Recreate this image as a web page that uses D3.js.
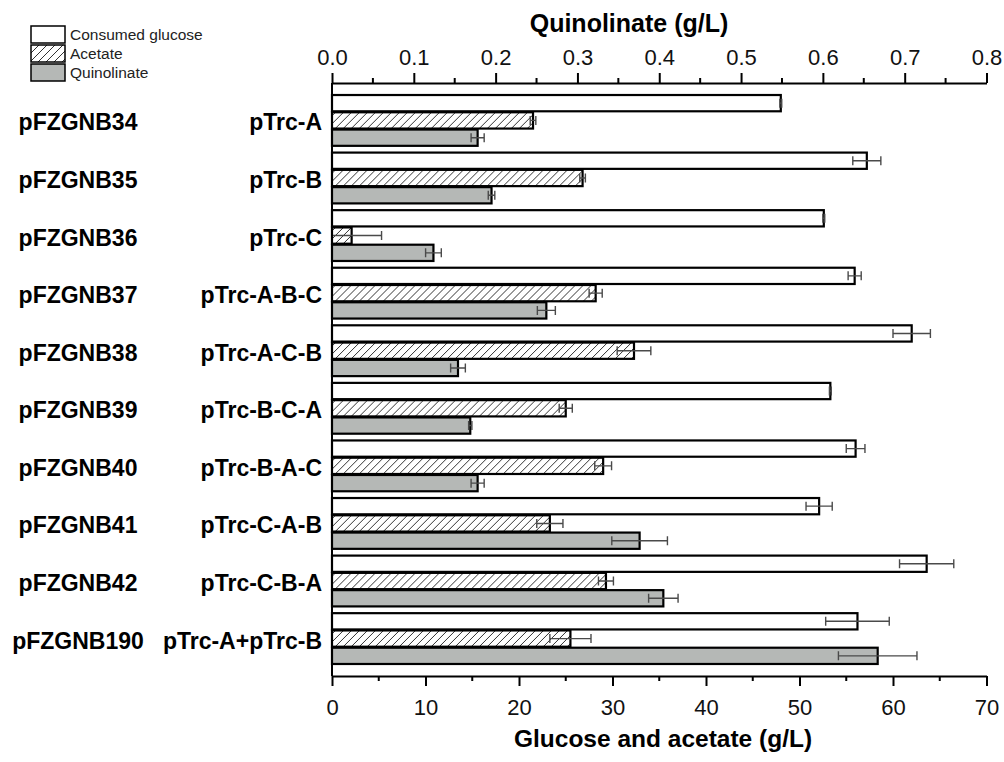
<!DOCTYPE html>
<html>
<head>
<meta charset="utf-8">
<script src="https://cdn.jsdelivr.net/npm/d3@7"></script>
<style>
  html, body { margin: 0; padding: 0; background: #fff; }
  svg { display: block; font-family: "Liberation Sans", Arial, sans-serif; }
</style>
</head>
<body>
<svg id="chart" width="1004" height="762"></svg>
<script>
const plasmids = ["pFZGNB34", "pFZGNB35", "pFZGNB36", "pFZGNB37", "pFZGNB38",
  "pFZGNB39", "pFZGNB40", "pFZGNB41", "pFZGNB42", "pFZGNB190"];
const constructs = ["pTrc-A", "pTrc-B", "pTrc-C", "pTrc-A-B-C", "pTrc-A-C-B",
  "pTrc-B-C-A", "pTrc-B-A-C", "pTrc-C-A-B", "pTrc-C-B-A", "pTrc-A+pTrc-B"];

// g/L, bottom axis
const glucose = [48.0, 57.2, 52.6, 55.9, 62.0, 53.3, 56.0, 52.1, 63.6, 56.2];
const glucoseErr = [0.1, 1.5, 0.1, 0.7, 2.0, 0.1, 1.0, 1.4, 2.9, 3.4];
const acetate = [21.5, 26.8, 2.1, 28.2, 32.3, 25.0, 29.0, 23.3, 29.3, 25.5];
const acetateErr = [0.3, 0.3, 3.2, 0.7, 1.8, 0.7, 0.9, 1.4, 0.8, 2.2];
// g/L, top axis
const quinolinate = [0.178, 0.195, 0.124, 0.262, 0.154, 0.169, 0.178, 0.376, 0.405, 0.667];
const quinolinateErr = [0.008, 0.004, 0.0096, 0.011, 0.009, 0.002, 0.008, 0.034, 0.018, 0.048];

const bottomTicks = [0, 10, 20, 30, 40, 50, 60, 70];
const topTicks = [0, 0.1, 0.2, 0.3, 0.4, 0.5, 0.6, 0.7, 0.8];
const seriesNames = ["Consumed glucose", "Acetate", "Quinolinate"];

const plotLeft = 332, plotRight = 986.5, plotTop = 83, plotBottom = 676;
const gray = "#b5b8b6";

const svg = d3.select("#chart");

const defs = svg.append("defs");
const hatch = defs.append("pattern")
  .attr("id", "hatch")
  .attr("patternUnits", "userSpaceOnUse")
  .attr("width", 8).attr("height", 8);
hatch.append("rect").attr("width", 8).attr("height", 8).attr("fill", "#fff");
hatch.append("path")
  .attr("d", "M-2,2 l4,-4 M0,8 l8,-8 M6,10 l4,-4")
  .attr("stroke", "#333").attr("stroke-width", 1);

const x = d3.scaleLinear().domain([0, 70]).range([plotLeft, plotRight]);
const xq = d3.scaleLinear().domain([0, 0.8]).range([plotLeft, plotRight]);

const y = d3.scaleBand().domain(plasmids).range([plotTop, plotBottom])
  .paddingInner(0.1).paddingOuter(0.2);
const ySub = d3.scaleBand().domain(seriesNames).range([0, y.bandwidth()]);

const rows = plasmids.map((p, i) => ({
  plasmid: p,
  bars: [
    { name: seriesNames[0], scale: x, value: glucose[i], err: glucoseErr[i], fill: "#fff" },
    { name: seriesNames[1], scale: x, value: acetate[i], err: acetateErr[i], fill: "url(#hatch)" },
    { name: seriesNames[2], scale: xq, value: quinolinate[i], err: quinolinateErr[i], fill: gray }
  ]
}));

const groups = svg.append("g").selectAll("g").data(rows).join("g")
  .attr("transform", (d) => `translate(0,${y(d.plasmid)})`);

const bar = groups.selectAll("g").data((d) => d.bars).join("g")
  .attr("transform", (d) => `translate(0,${ySub(d.name)})`);

bar.append("rect")
  .attr("x", plotLeft)
  .attr("y", 0.5)
  .attr("width", (d) => d.scale(d.value) - plotLeft)
  .attr("height", ySub.bandwidth() - 1)
  .attr("fill", (d) => d.fill)
  .attr("stroke", "#000")
  .attr("stroke-width", 2.2);

const capH = 9;
const mid = ySub.bandwidth() / 2;
bar.append("path")
  .attr("d", (d) => {
    const a = Math.max(plotLeft, d.scale(d.value - d.err));
    const b = d.scale(d.value + d.err);
    return `M${a},${mid}H${b}M${a},${mid - capH / 2}v${capH}M${b},${mid - capH / 2}v${capH}`;
  })
  .attr("fill", "none")
  .attr("stroke", "#4a4a4a")
  .attr("stroke-width", 1.4);

// axes
const bottomAxis = svg.append("g")
  .attr("transform", `translate(0,${plotBottom})`)
  .call(d3.axisBottom(x).tickValues(bottomTicks).tickSize(10).tickPadding(13).tickSizeOuter(0));
bottomAxis.append("g").attr("class", "minor").selectAll("line").data(d3.range(5, 70, 10)).join("line")
  .attr("x1", (d) => x(d)).attr("x2", (d) => x(d))
  .attr("y1", 0).attr("y2", 5);

const topAxis = svg.append("g")
  .attr("transform", `translate(0,${plotTop})`)
  .call(d3.axisTop(xq).tickValues(topTicks).tickFormat(d3.format(".1f"))
    .tickSize(10).tickPadding(8).tickSizeOuter(0));
topAxis.append("g").attr("class", "minor").selectAll("line").data(d3.range(0.05, 0.8, 0.1)).join("line")
  .attr("x1", (d) => xq(d)).attr("x2", (d) => xq(d))
  .attr("y1", 0).attr("y2", -5);

svg.append("line")
  .attr("x1", plotLeft).attr("x2", plotLeft)
  .attr("y1", plotTop).attr("y2", plotBottom)
  .attr("stroke", "#000").attr("stroke-width", 2);

svg.selectAll(".domain").attr("stroke", "#000").attr("stroke-width", 2);
svg.selectAll(".tick line, .minor line").attr("stroke", "#000").attr("stroke-width", 2);
svg.selectAll(".tick text")
  .attr("font-family", "\"Liberation Sans\", Arial, sans-serif")
  .attr("font-size", 22).attr("fill", "#111");

// axis titles
svg.append("text")
  .attr("x", 629).attr("y", 32)
  .attr("text-anchor", "middle")
  .attr("font-size", 25).attr("font-weight", "bold")
  .text("Quinolinate (g/L)");

svg.append("text")
  .attr("x", 663).attr("y", 747)
  .attr("text-anchor", "middle")
  .attr("font-size", 24.5).attr("font-weight", "bold")
  .text("Glucose and acetate (g/L)");

// row labels
svg.append("g").selectAll("text").data(plasmids).join("text")
  .attr("x", 78)
  .attr("y", (d) => y(d) + y.bandwidth() / 2 + 2)
  .attr("dy", "0.35em")
  .attr("text-anchor", "middle")
  .attr("font-size", 23).attr("font-weight", "bold")
  .text((d) => d);

svg.append("g").selectAll("text").data(constructs).join("text")
  .attr("x", 322)
  .attr("y", (d, i) => y(plasmids[i]) + y.bandwidth() / 2 + 2)
  .attr("dy", "0.35em")
  .attr("text-anchor", "end")
  .attr("font-size", 23).attr("font-weight", "bold")
  .text((d) => d);

// legend
const legendFills = ["#fff", "url(#hatch)", gray];
const legend = svg.append("g").selectAll("g").data(seriesNames).join("g")
  .attr("transform", (d, i) => `translate(31,${26 + i * 19})`);
legend.append("rect")
  .attr("width", 34).attr("height", 17)
  .attr("fill", (d, i) => legendFills[i])
  .attr("stroke", "#000").attr("stroke-width", 1.5);
legend.append("text")
  .attr("x", 39).attr("y", 8.5).attr("dy", "0.35em")
  .attr("font-size", 15.5).attr("fill", "#222")
  .text((d) => d);
</script>
</body>
</html>
